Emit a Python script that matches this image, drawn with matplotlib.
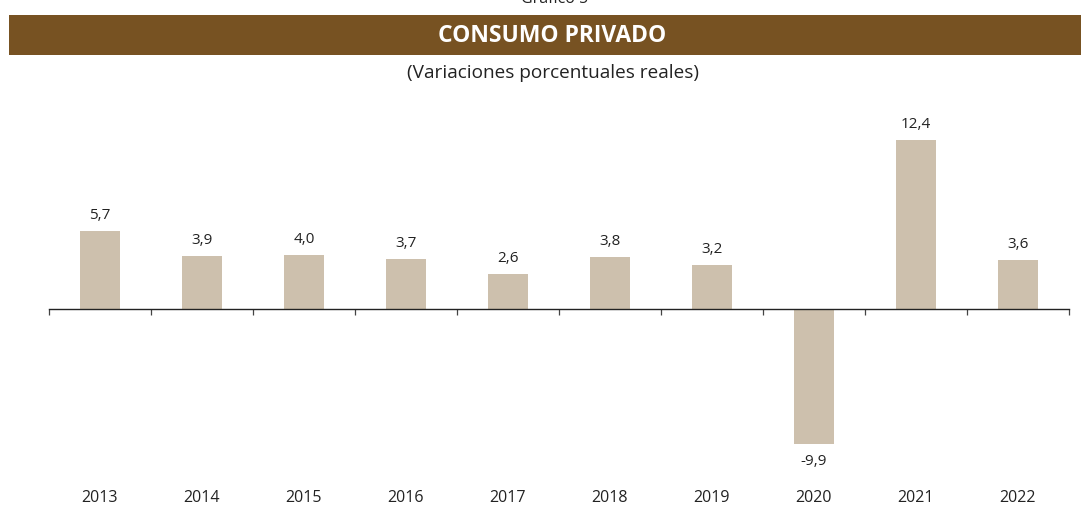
import matplotlib
matplotlib.use("Agg")
import matplotlib.pyplot as plt
import matplotlib.transforms as mtransforms
from matplotlib.patches import Rectangle

years = ["2013", "2014", "2015", "2016", "2017", "2018", "2019", "2020", "2021", "2022"]
values = [5.7, 3.9, 4.0, 3.7, 2.6, 3.8, 3.2, -9.9, 12.4, 3.6]
value_labels = ["5,7", "3,9", "4,0", "3,7", "2,6", "3,8", "3,2", "-9,9", "12,4", "3,6"]

W, H = 1081, 506
BAR = "#cdc0ad"
BROWN = "#775222"
FONT = "Open Sans"

fig = plt.figure(figsize=(W / 100, H / 100), dpi=100)
fig.patch.set_facecolor("white")

# header
fig.text(555 / W, 1 - (-1) / H, "Gráfico 5", ha="center", va="center", fontsize=11.5, family=FONT, color="#222222")
fig.patches.append(Rectangle((9 / W, 1 - 56 / H), (1081 - 9) / W, 40 / H, transform=fig.transFigure,
                             facecolor=BROWN, edgecolor="none", zorder=0))
fig.text(552 / W, 1 - 36 / H, "CONSUMO PRIVADO", ha="center", va="center", fontsize=16.5,
         fontweight="bold", family=FONT, color="white")
fig.text(553 / W, 1 - 73 / H, "(Variaciones porcentuales reales)", ha="center", va="center",
         fontsize=13.7, family=FONT, color="#222222")

# axes: left 49, right 1069, top 106, bottom 480 (pixels from top)
ax = fig.add_axes([49 / W, 1 - 480 / H, (1069 - 49) / W, (480 - 106) / H])
ax.set_xlim(0, len(years))
ax.set_ylim(-12.5, 15.0)
x = [i + 0.5 for i in range(len(years))]
ax.bar(x, values, width=0.4, color=BAR, zorder=2)

for s in ["top", "right", "left"]:
    ax.spines[s].set_visible(False)
ax.spines["bottom"].set_position(("data", 0))
ax.spines["bottom"].set_linewidth(1.0)
ax.spines["bottom"].set_color("#222222")
ax.set_xticks(range(len(years) + 1))
ax.set_xticklabels([])
ax.tick_params(axis="x", direction="out", length=4, width=0.9, color="#444444")
ax.set_yticks([])

for xi, v, lab in zip(x, values, value_labels):
    if v >= 0:
        ax.annotate(lab, (xi, v), xytext=(0, 6.5), textcoords="offset points", ha="center", va="bottom",
                    fontsize=11, family=FONT, color="#222222")
    else:
        ax.annotate(lab, (xi, v), xytext=(0, -7), textcoords="offset points", ha="center", va="top",
                    fontsize=11, family=FONT, color="#222222")

blend = mtransforms.blended_transform_factory(ax.transData, fig.transFigure)
for xi, yr in zip(x, years):
    ax.text(xi, 1 - 498 / H, yr, transform=blend,
            ha="center", va="center", fontsize=11.5, family=FONT, color="#222222")

fig.savefig("out.png", dpi=100)
